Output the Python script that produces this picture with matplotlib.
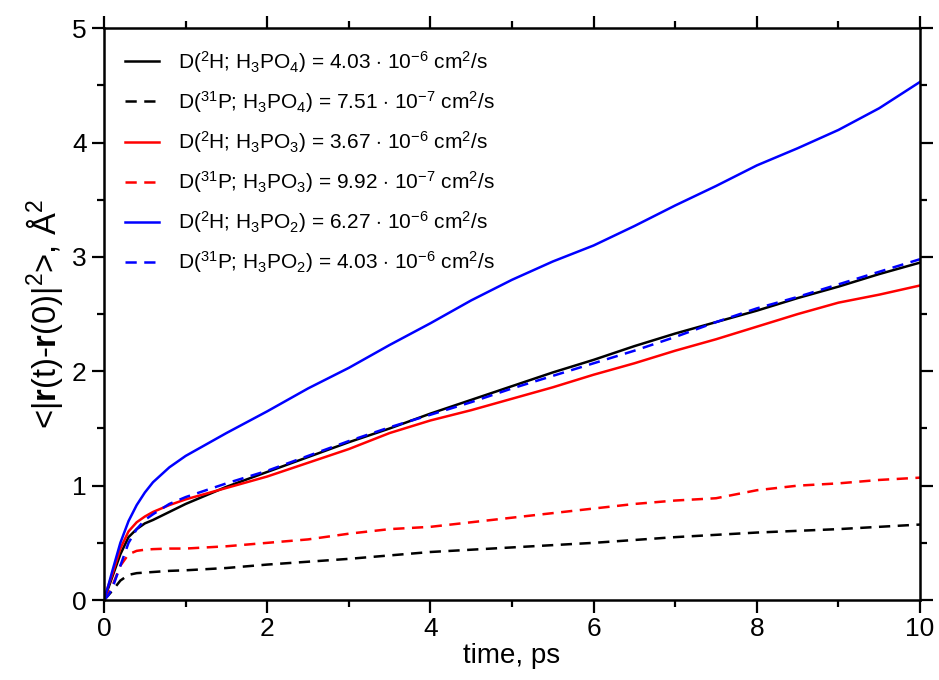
import numpy as np
import matplotlib
matplotlib.use('Agg')
import matplotlib.pyplot as plt
from matplotlib.ticker import MultipleLocator

plt.rcParams['font.family'] = ['Liberation Sans', 'DejaVu Sans']
plt.rcParams['mathtext.fontset'] = 'custom'
plt.rcParams['mathtext.rm'] = 'Liberation Sans'
plt.rcParams['mathtext.it'] = 'Liberation Sans:italic'
plt.rcParams['mathtext.bf'] = 'Liberation Sans:bold'

# time, ps
t = [0, 0.05, 0.1, 0.2, 0.3, 0.4, 0.5, 0.6, 0.8, 1.0, 1.5, 2, 2.5, 3, 3.5, 4,
     4.5, 5, 5.5, 6, 6.5, 7, 7.5, 8, 8.5, 9, 9.5, 10]

h_po4 = [0, 0.1, 0.2, 0.4, 0.55, 0.62, 0.67, 0.7, 0.77, 0.84, 0.99, 1.12, 1.25, 1.38,
         1.50, 1.63, 1.75, 1.87, 1.99, 2.10, 2.22, 2.33, 2.43, 2.53, 2.64, 2.74, 2.85, 2.95]
p_po4 = [0, 0.04, 0.08, 0.17, 0.22, 0.235, 0.24, 0.245, 0.255, 0.26, 0.28, 0.31, 0.335, 0.36,
         0.39, 0.42, 0.44, 0.46, 0.48, 0.50, 0.525, 0.55, 0.57, 0.59, 0.605, 0.62, 0.64, 0.66]
h_po3 = [0, 0.12, 0.22, 0.45, 0.6, 0.68, 0.73, 0.77, 0.83, 0.88, 0.98, 1.08, 1.2, 1.32,
         1.46, 1.57, 1.66, 1.76, 1.86, 1.97, 2.07, 2.18, 2.28, 2.39, 2.50, 2.60, 2.67, 2.75]
p_po3 = [0, 0.05, 0.12, 0.3, 0.4, 0.43, 0.44, 0.445, 0.45, 0.45, 0.47, 0.50, 0.53, 0.58,
         0.62, 0.64, 0.68, 0.72, 0.76, 0.80, 0.84, 0.87, 0.89, 0.96, 1.0, 1.02, 1.05, 1.07]
h_po2 = [0, 0.12, 0.25, 0.5, 0.69, 0.83, 0.94, 1.03, 1.16, 1.26, 1.46, 1.65, 1.85, 2.03,
         2.23, 2.42, 2.62, 2.80, 2.96, 3.10, 3.27, 3.45, 3.62, 3.80, 3.95, 4.11, 4.30, 4.53]
p_po2 = [0, 0.04, 0.1, 0.3, 0.5, 0.62, 0.7, 0.75, 0.84, 0.9, 1.02, 1.13, 1.26, 1.39,
         1.51, 1.62, 1.73, 1.85, 1.96, 2.07, 2.18, 2.30, 2.43, 2.55, 2.65, 2.76, 2.87, 2.98]

labels = [
    r'D($^{2}$H; H$_3$PO$_4$) = 4.03 $\cdot$ 10$^{-6}$ cm$^2$/s',
    r'D($^{31}$P; H$_3$PO$_4$) = 7.51 $\cdot$ 10$^{-7}$ cm$^2$/s',
    r'D($^{2}$H; H$_3$PO$_3$) = 3.67 $\cdot$ 10$^{-6}$ cm$^2$/s',
    r'D($^{31}$P; H$_3$PO$_3$) = 9.92 $\cdot$ 10$^{-7}$ cm$^2$/s',
    r'D($^{2}$H; H$_3$PO$_2$) = 6.27 $\cdot$ 10$^{-6}$ cm$^2$/s',
    r'D($^{31}$P; H$_3$PO$_2$) = 4.03 $\cdot$ 10$^{-6}$ cm$^2$/s',
]
series = [h_po4, p_po4, h_po3, p_po3, h_po2, p_po2]
colors = ['black', 'black', '#ff0000', '#ff0000', '#0000ff', '#0000ff']
styles = ['-', '--', '-', '--', '-', '--']

fig = plt.figure(figsize=(9.39, 6.8), dpi=100)
ax = fig.add_axes([0.1108, 0.1176, 0.869, 0.841])

for y, c, ls, lab in zip(series, colors, styles, labels):
    ax.plot(t, y, color=c, ls=ls, lw=1.8, label=lab,
            dashes=(4.5, 3) if ls == '--' else (None, None))

ax.set_xlim(0, 10)
ax.set_ylim(0, 5)
ax.xaxis.set_major_locator(MultipleLocator(2))
ax.xaxis.set_minor_locator(MultipleLocator(1))
ax.yaxis.set_major_locator(MultipleLocator(1))
ax.yaxis.set_minor_locator(MultipleLocator(0.5))
ax.tick_params(which='both', direction='out', top=True, right=True,
               width=1.6, labelsize=19)
ax.tick_params(which='major', length=9)
ax.tick_params(which='minor', length=5)
for s in ax.spines.values():
    s.set_linewidth(1.8)

ax.set_xlabel('time, ps', fontsize=20, labelpad=1)
ax.set_ylabel(r'<|$\mathbf{r}$(t)-$\mathbf{r}$(0)|$^2$>, Å$^2$', fontsize=23.5, labelpad=5)

ax.legend(loc='upper left', frameon=False, fontsize=15, handlelength=1.65,
          labelspacing=0.68, borderaxespad=0.6, handletextpad=0.9)

fig.savefig('out.png', dpi=100)
